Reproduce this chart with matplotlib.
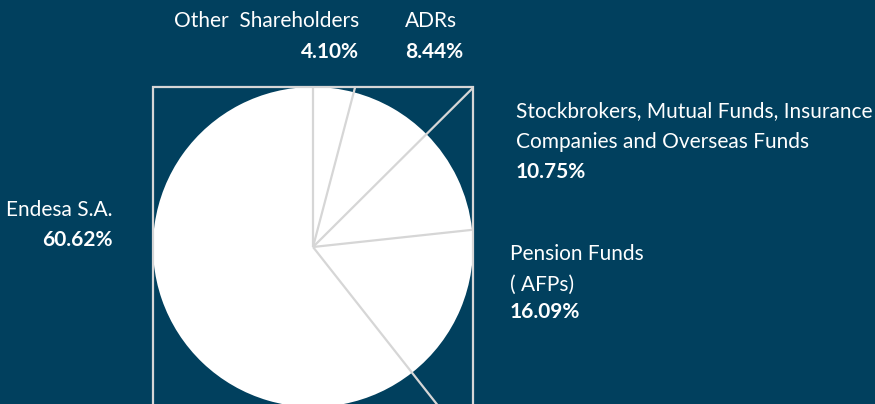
import numpy as np
import matplotlib
matplotlib.use("Agg")
import matplotlib.pyplot as plt
from matplotlib.patches import Rectangle

labels = ["Other  Shareholders", "ADRs",
          "Stockbrokers, Mutual Funds, Insurance\nCompanies and Overseas Funds",
          "Pension Funds\n( AFPs)", "Endesa S.A."]
values = [4.10, 8.44, 10.75, 16.09, 60.62]
pct_labels = ["4.10%", "8.44%", "10.75%", "16.09%", "60.62%"]

BG = "#01405e"
LINE = "#d6d6d6"
W, H = 875, 404
plt.rcParams['font.family'] = ['Lato', 'DejaVu Sans']

fig = plt.figure(figsize=(W / 100, H / 100), dpi=100, facecolor=BG)
ax = fig.add_axes([0, 0, 1, 1])
ax.set_facecolor(BG)

cx, cy, r = 313, H - 247, 160
ax.pie(values, colors=["white"] * len(values), startangle=90, counterclock=False,
       radius=r, center=(cx, cy), wedgeprops=dict(linewidth=0))
ax.set_xlim(0, W)
ax.set_ylim(0, H)
ax.set_aspect('equal')
ax.axis('off')

# square frame
ax.add_patch(Rectangle((cx - r, cy - r), 2 * r, 2 * r, fill=False,
                       edgecolor=LINE, linewidth=1.6, zorder=3))

# slice boundary lines extended to frame
cum = np.concatenate([[0], np.cumsum(values)[:-1]])
for c in cum:
    th = np.deg2rad(c / 100 * 360)
    dx, dy = np.sin(th), np.cos(th)
    t = r / max(abs(dx), abs(dy))
    ax.plot([cx, cx + t * dx], [cy, cy + t * dy], color=LINE, lw=1.6,
            solid_capstyle='butt', zorder=4)

fs = 15
def txt(x, y, s, ha, bold=False):
    for i, line in enumerate(s.split("\n")):
        ax.text(x, H - (y + 31 * i), line, ha=ha, va='center', color='white',
                fontsize=fs, fontweight='bold' if bold else 'normal')

txt(359, 21, labels[0], 'right')
txt(359, 52, pct_labels[0], 'right', True)
txt(405, 21, labels[1], 'left')
txt(405, 52, pct_labels[1], 'left', True)
txt(516, 111, labels[2], 'left')
txt(516, 172, pct_labels[2], 'left', True)
txt(510, 254, labels[3], 'left')
txt(510, 312, pct_labels[3], 'left', True)
txt(113, 210, labels[4], 'right')
txt(113, 240, pct_labels[4], 'right', True)

fig.savefig("out.png", dpi=100, facecolor=BG)
